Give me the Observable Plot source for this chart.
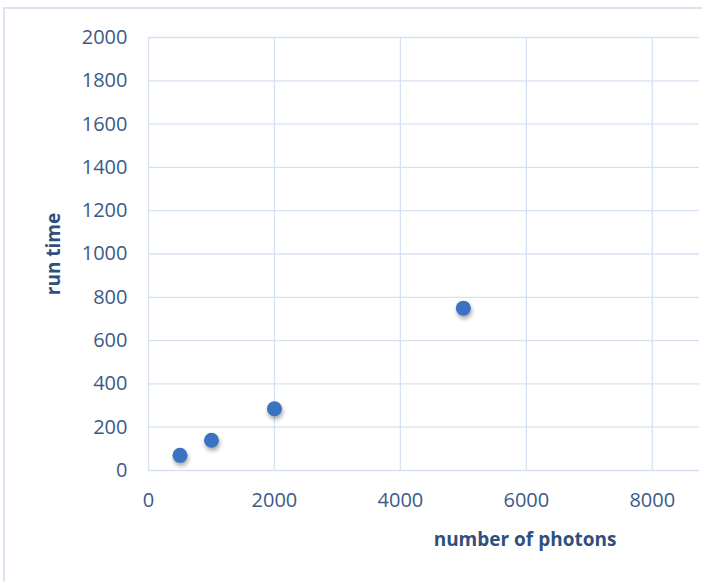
<!DOCTYPE html>
<html>
<head>
<meta charset="utf-8">
<script src="https://cdn.jsdelivr.net/npm/d3@7"></script>
<script src="https://cdn.jsdelivr.net/npm/@observablehq/plot@0.6"></script>
<style>
  html, body { margin: 0; padding: 0; background: #fff; }
  #wrap { position: relative; width: 702px; height: 582px; overflow: hidden; }
  #frame { position: absolute; left: 3px; top: 7px; width: 720px; height: 600px;
           border-left: 2px solid #dbe4f0; border-top: 2px solid #dbe4f0; pointer-events: none; }
  g[aria-label="dot"] circle { filter: drop-shadow(1px 3px 2px rgba(0,0,0,0.35)); }
</style>
</head>
<body>
<div id="wrap"><div id="frame"></div></div>
<script>
const photons = [500, 1000, 2000, 5000];
const runTime = [70, 140, 285, 750];
const xTicks = [0, 2000, 4000, 6000, 8000];
const yTicks = [0, 200, 400, 600, 800, 1000, 1200, 1400, 1600, 1800, 2000];
const xTitle = "number of photons";
const yTitle = "run time";

const data = photons.map((p, i) => ({photons: p, runTime: runTime[i]}));
const gridColor = "#d6e2f2";
const tickColor = "#3d5a86";
const titleColor = "#2f4f7f";

const chart = Plot.plot({
  width: 702,
  height: 582,
  marginLeft: 148,
  marginRight: 3,
  marginTop: 37,
  marginBottom: 112,
  style: {fontFamily: "'Open Sans', sans-serif", background: "transparent", overflow: "visible"},
  x: {domain: [0, 8750]},
  y: {domain: [0, 2000]},
  marks: [
    Plot.gridX(xTicks, {stroke: gridColor, strokeOpacity: 1, strokeWidth: 1.3}),
    Plot.gridY(yTicks, {stroke: gridColor, strokeOpacity: 1, strokeWidth: 1.3}),
    Plot.axisX(xTicks, {tickSize: 0, tickPadding: 22, fontSize: 20, fill: tickColor, label: null, tickFormat: d => String(d)}),
    Plot.axisY(yTicks, {tickSize: 0, tickPadding: 21, fontSize: 20, fill: tickColor, label: null, tickFormat: d => String(d)}),
    Plot.dot(data, {x: "photons", y: "runTime", r: 7.5, fill: "#3a73c2", stroke: "none"}),
    Plot.text([xTitle], {frameAnchor: "bottom", dx: 101, dy: 75, textAnchor: "middle", fontSize: 19, fontWeight: "bold", fill: titleColor, text: d => d}),
    Plot.text([yTitle], {frameAnchor: "left", dx: -95, rotate: -90, textAnchor: "middle", fontSize: 19, fontWeight: "bold", fill: titleColor, text: d => d})
  ]
});
document.getElementById("wrap").insertBefore(chart, document.getElementById("frame"));
</script>
</body>
</html>
